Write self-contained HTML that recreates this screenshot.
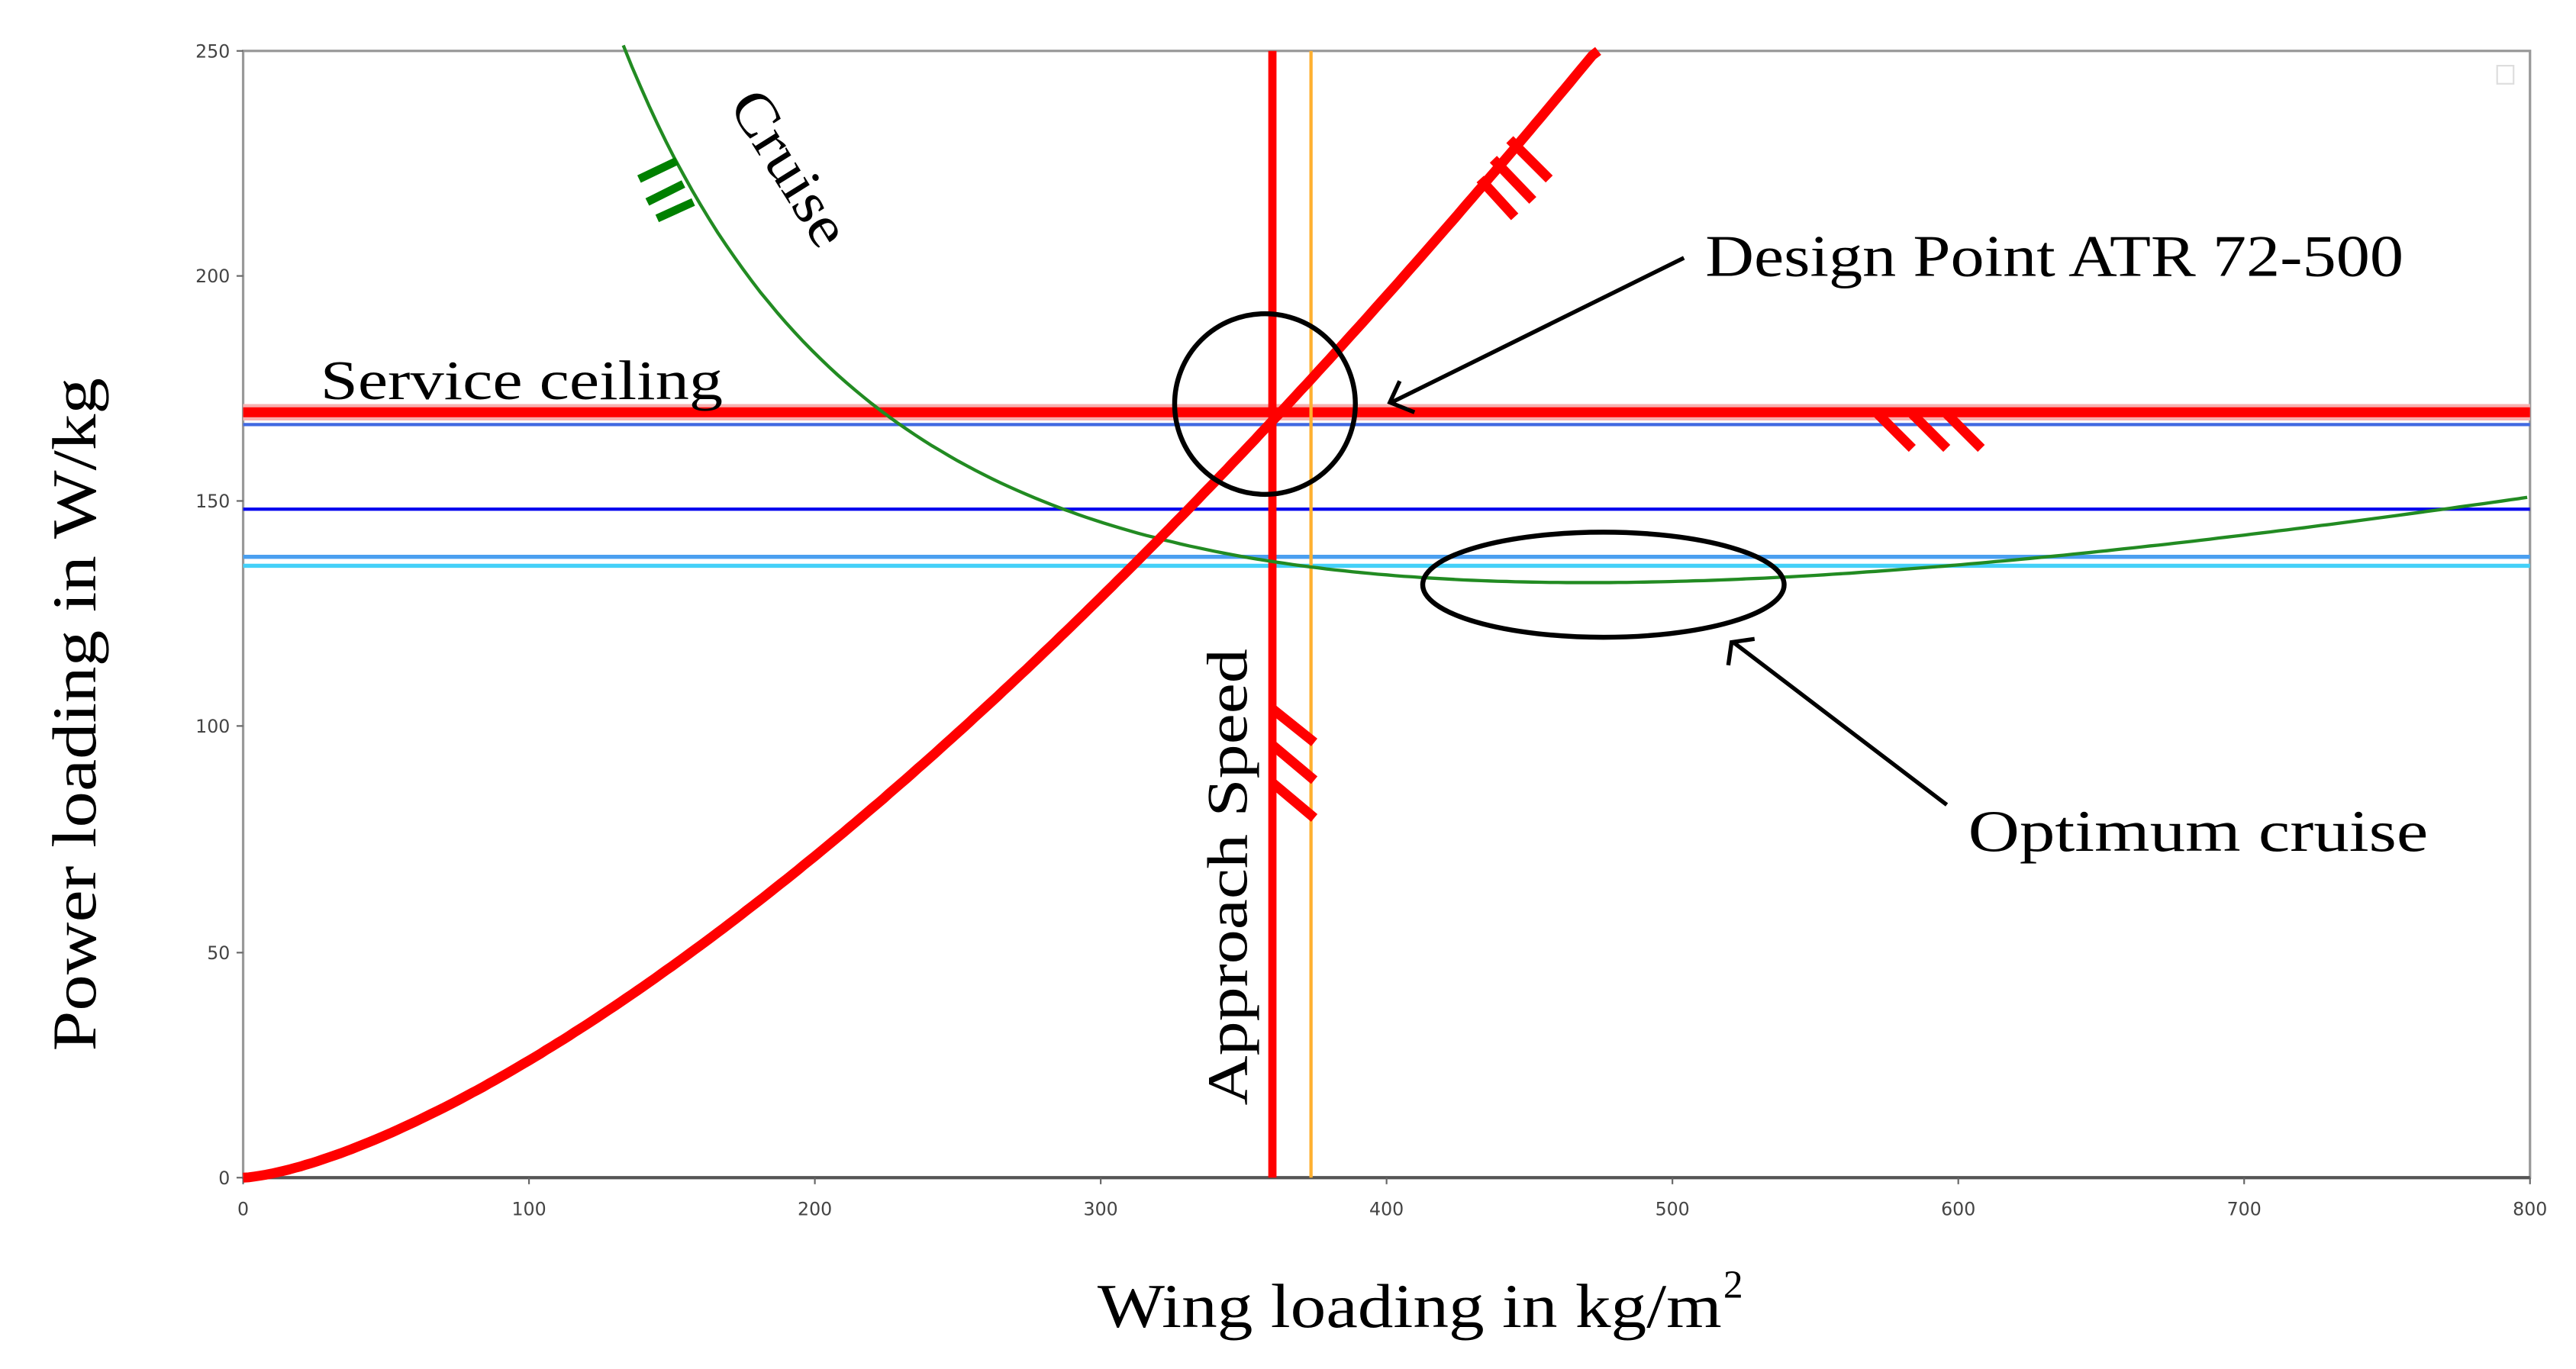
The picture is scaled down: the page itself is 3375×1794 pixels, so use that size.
<!DOCTYPE html>
<html><head><meta charset="utf-8"><style>
html,body{margin:0;padding:0;background:#fff;}
svg{display:block;}
.t{font-family:"DejaVu Sans","Liberation Sans",sans-serif;font-size:11px;fill:#444;}
.s{font-family:"Liberation Serif",serif;fill:#000;}
</style></head><body>
<svg width="3375" height="1794" viewBox="0 0 1568 833.5" preserveAspectRatio="none" xmlns="http://www.w3.org/2000/svg">
<rect x="0" y="0" width="1568" height="834" fill="#fff"/>
<rect x="148" y="31" width="1392" height="686" fill="none" stroke="#999" stroke-width="1.5"/>
<line x1="148" y1="717" x2="1540" y2="717" stroke="#555" stroke-width="2"/>
<rect x="1520" y="40" width="10" height="11" fill="none" stroke="#ddd" stroke-width="1"/>
<g stroke="#666" stroke-width="1">
<line x1="144" y1="717" x2="148" y2="717"/><line x1="144" y1="580" x2="148" y2="580"/><line x1="144" y1="442" x2="148" y2="442"/><line x1="144" y1="305" x2="148" y2="305"/><line x1="144" y1="168" x2="148" y2="168"/><line x1="144" y1="31" x2="148" y2="31"/>
<line x1="148" y1="717" x2="148" y2="721"/><line x1="322" y1="717" x2="322" y2="721"/><line x1="496" y1="717" x2="496" y2="721"/><line x1="670" y1="717" x2="670" y2="721"/><line x1="844" y1="717" x2="844" y2="721"/><line x1="1018" y1="717" x2="1018" y2="721"/><line x1="1192" y1="717" x2="1192" y2="721"/><line x1="1366" y1="717" x2="1366" y2="721"/><line x1="1540" y1="717" x2="1540" y2="721"/>
</g>
<g class="t" text-anchor="end">
<text x="140" y="721">0</text><text x="140" y="584">50</text><text x="140" y="446">100</text><text x="140" y="309">150</text><text x="140" y="172">200</text><text x="140" y="35">250</text>
</g>
<g class="t" text-anchor="middle">
<text x="148" y="740">0</text><text x="322" y="740">100</text><text x="496" y="740">200</text><text x="670" y="740">300</text><text x="844" y="740">400</text><text x="1018" y="740">500</text><text x="1192" y="740">600</text><text x="1366" y="740">700</text><text x="1540" y="740">800</text>
</g>
<line x1="148" y1="251" x2="1540" y2="251" stroke="#f7b0b0" stroke-width="10"/>
<line x1="148" y1="251" x2="1540" y2="251" stroke="#ff0000" stroke-width="6"/>
<line x1="148" y1="258.5" x2="1540" y2="258.5" stroke="#4169e1" stroke-width="2"/>
<line x1="148" y1="310" x2="1540" y2="310" stroke="#0000ee" stroke-width="2"/>
<line x1="148" y1="339" x2="1540" y2="339" stroke="#4a9ff0" stroke-width="2.5"/>
<line x1="148" y1="344.5" x2="1540" y2="344.5" stroke="#44d0f8" stroke-width="2.5"/>
<line x1="798" y1="31" x2="798" y2="717" stroke="#ffb030" stroke-width="2"/>
<line x1="774.5" y1="31" x2="774.5" y2="717" stroke="#ff0000" stroke-width="5"/>
<path id="green" fill="none" stroke="#228b22" stroke-width="2"/>
<path id="red" fill="none" stroke="#ff0000" stroke-width="6"/>
<g stroke="#008000" stroke-width="5">
<line x1="389" y1="109" x2="412" y2="98"/><line x1="394" y1="123" x2="416" y2="112"/><line x1="400" y1="133" x2="422" y2="123"/>
</g>
<g stroke="#ff0000" stroke-width="6">
<line x1="919" y1="85" x2="943" y2="109"/><line x1="909" y1="97" x2="933" y2="122"/><line x1="901" y1="109" x2="922" y2="132"/>
<line x1="1143" y1="252" x2="1164" y2="273"/><line x1="1164" y1="252" x2="1185" y2="273"/><line x1="1185" y1="252" x2="1206" y2="273"/>
<line x1="775" y1="432" x2="800" y2="452"/><line x1="775" y1="454" x2="800" y2="475"/><line x1="775" y1="477" x2="800" y2="498"/>
</g>
<ellipse cx="770" cy="246" rx="55" ry="55" fill="none" stroke="#000" stroke-width="3"/>
<ellipse cx="976" cy="356" rx="110" ry="32" fill="none" stroke="#000" stroke-width="3"/>
<line x1="1025" y1="157" x2="847" y2="245" stroke="#000" stroke-width="2.5"/>
<path d="M852 232 L846 245 L861 251" fill="none" stroke="#000" stroke-width="2.5"/>
<line x1="1185" y1="490" x2="1055" y2="391" stroke="#000" stroke-width="2.5"/>
<path d="M1052 405 L1054 391 L1068 389" fill="none" stroke="#000" stroke-width="2.5"/>
<text class="s" x="195" y="243" font-size="34" textLength="245" lengthAdjust="spacingAndGlyphs">Service ceiling</text>
<text class="s" x="0" y="0" font-size="36" textLength="105" lengthAdjust="spacingAndGlyphs" transform="translate(443,64) rotate(58)">Cruise</text>
<text class="s" x="1038" y="168" font-size="36" textLength="425" lengthAdjust="spacingAndGlyphs">Design Point ATR 72-500</text>
<text class="s" x="1198" y="518" font-size="36" textLength="280" lengthAdjust="spacingAndGlyphs">Optimum cruise</text>
<text class="s" x="0" y="0" font-size="35" textLength="278" lengthAdjust="spacingAndGlyphs" transform="translate(759,395) rotate(-90)" text-anchor="end">Approach Speed</text>
<text class="s" x="-640" y="0" font-size="38" textLength="410" lengthAdjust="spacingAndGlyphs" transform="translate(58,0) rotate(-90)">Power loading in W/kg</text>
<text class="s" x="668" y="808" font-size="38" textLength="380" lengthAdjust="spacingAndGlyphs">Wing loading in kg/m</text>
<text class="s" x="1049" y="790" font-size="24">2</text>
</svg>
<script>
(function(){
function X(v){return 148+v*1.74;} function Y(v){return 717-v*2.744;}
var d="";
for(var x=133;x<=800;x+=3){var y=30838/x+0.1396*x+0.8;d+=(d?"L":"M")+X(x).toFixed(1)+" "+Y(y).toFixed(1);}
document.getElementById("green").setAttribute("d",d);
d="";
for(var x=0;x<=480;x+=2){var y=26*Math.pow(x/100,1.456);if(y>250)y=250;d+=(d?"L":"M")+X(x).toFixed(1)+" "+Y(y).toFixed(1);if(y>=250)break;}
document.getElementById("red").setAttribute("d",d);
})();
</script>
</body></html>
